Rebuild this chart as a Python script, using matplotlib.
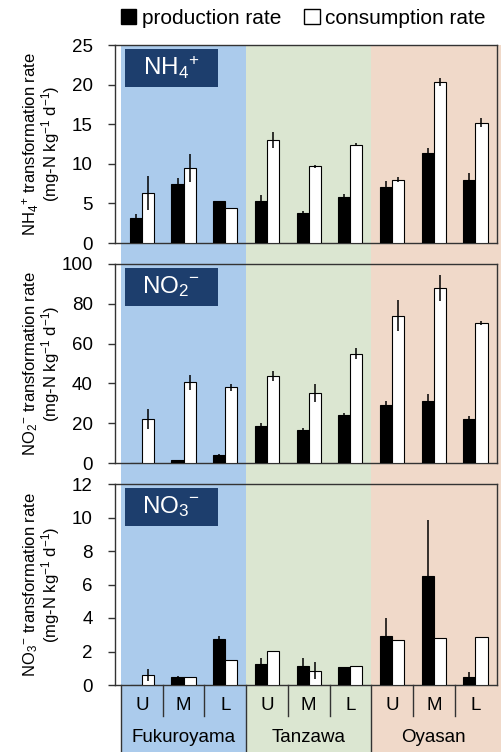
import numpy as np
import matplotlib
matplotlib.use("Agg")
from matplotlib import pyplot as plt
from matplotlib.patches import Patch, Rectangle
from matplotlib.transforms import blended_transform_factory

plt.rcParams['font.family'] = ['Liberation Sans', 'DejaVu Sans']
plt.rcParams['mathtext.fontset'] = 'custom'
plt.rcParams['mathtext.rm'] = 'Liberation Sans'
plt.rcParams['mathtext.it'] = 'Liberation Sans:italic'
plt.rcParams['mathtext.bf'] = 'Liberation Sans:bold'

sites = ['Fukuroyama', 'Tanzawa', 'Oyasan']
positions = ['U', 'M', 'L'] * 3

# NH4+ rates (mg-N kg-1 d-1)
nh4_prod = [3.1, 7.4, 5.3, 5.3, 3.8, 5.8, 7.1, 11.4, 7.9]
nh4_prod_err = [0.5, 0.8, 0.0, 0.7, 0.2, 0.35, 0.7, 0.6, 0.9]
nh4_cons = [6.3, 9.5, 4.4, 13.0, 9.7, 12.4, 8.0, 20.3, 15.2]
nh4_cons_err = [2.1, 1.8, 0.0, 1.0, 0.2, 0.2, 0.35, 0.5, 0.55]

# NO2- rates
no2_prod = [0.0, 1.3, 3.9, 18.4, 16.6, 24.0, 29.0, 31.0, 22.1]
no2_prod_err = [0.0, 0.3, 0.8, 1.7, 1.2, 1.1, 2.0, 3.8, 1.4]
no2_cons = [22.1, 40.5, 38.0, 43.6, 35.3, 54.9, 74.0, 87.9, 70.4]
no2_cons_err = [5.2, 3.9, 1.9, 2.5, 4.5, 2.7, 7.7, 6.5, 1.1]

# NO3- rates
no3_prod = [0.02, 0.48, 2.73, 1.23, 1.15, 1.05, 2.95, 6.53, 0.46]
no3_prod_err = [0.0, 0.05, 0.17, 0.37, 0.45, 0.0, 1.05, 3.3, 0.32]
no3_cons = [0.6, 0.5, 1.5, 2.03, 0.84, 1.11, 2.7, 2.79, 2.87]
no3_cons_err = [0.37, 0.0, 0.0, 0.0, 0.51, 0.0, 0.0, 0.0, 0.0]

panels = [
    (r'NH$_4$$^{+}$', nh4_prod, nh4_prod_err, nh4_cons, nh4_cons_err, 25, 5,
     r'NH$_4$$^{+}$ transformation rate'),
    (r'NO$_2$$^{-}$', no2_prod, no2_prod_err, no2_cons, no2_cons_err, 100, 20,
     r'NO$_2$$^{-}$ transformation rate'),
    (r'NO$_3$$^{-}$', no3_prod, no3_prod_err, no3_cons, no3_cons_err, 12, 2,
     r'NO$_3$$^{-}$ transformation rate'),
]

W, H = 501, 752
fig = plt.figure(figsize=(W / 100, H / 100), dpi=100)

unit = 41.7  # px per category
band_colors = ['#abcbec', '#dbe6d1', '#f0d9c9']

# coloured site bands behind all three panels
bg = fig.add_axes([116 / W, 0, (W - 116) / W, (H - 45) / H], zorder=-5)
bg_left = -0.5 - 5 / unit
bg.set_xlim(bg_left, bg_left + (W - 116) / unit)
bg.set_ylim(0, 1)
for i, c in enumerate(band_colors):
    bg.axvspan(-0.5 + 3 * i, 2.5 + 3 * i + (3 if i == 2 else 0), color=c, lw=0)
bg.axis('off')

ax_left, ax_right = 115, 497
x_lo = -0.5 - 6 / unit
x_hi = x_lo + (ax_right - ax_left) / unit
frames = [(45, 243), (264, 463), (484, 685)]

x = np.arange(9)
bw = 0.29
axes = []
for (top, bot), (tag, prod, perr, cons, cerr, ymax, step, ylab) in zip(frames, panels):
    ax = fig.add_axes([ax_left / W, 1 - bot / H, (ax_right - ax_left) / W, (bot - top) / H])
    ax.patch.set_alpha(0)
    ax.bar(x - bw / 2, prod, bw, color='black', edgecolor='black', lw=0.8, zorder=3)
    ax.bar(x + bw / 2, cons, bw, color='white', edgecolor='black', lw=0.8, zorder=3)
    ax.errorbar(x - bw / 2, prod, yerr=perr, fmt='none', ecolor='black', elinewidth=1.1,
                capsize=0, zorder=4)
    ax.errorbar(x + bw / 2, cons, yerr=cerr, fmt='none', ecolor='black', elinewidth=1.1,
                capsize=0, zorder=4)
    ax.set_xlim(x_lo, x_hi)
    ax.set_ylim(0, ymax)
    ax.set_yticks(np.arange(0, ymax + step / 2, step))
    ax.tick_params(axis='y', direction='out', length=5, width=1, labelsize=13.5, pad=11,
                   color='#333333')
    ax.set_xticks([])
    for s in ax.spines.values():
        s.set_color('#333333')
        s.set_linewidth(1)
    # two-line axis title, placed by hand
    fig.text(31 / W, 1 - (top + bot) / 2 / H, ylab, rotation=90, ha='center', va='center',
             fontsize=12)
    fig.text(51 / W, 1 - (top + bot) / 2 / H, '(mg-N kg$^{-1}$ d$^{-1}$)', rotation=90,
             ha='center', va='center', fontsize=12)

    # species tag in the corner
    h = bot - top
    ax.add_patch(Rectangle((10 / (ax_right - ax_left), 1 - 42 / h), 93 / (ax_right - ax_left), 38 / h,
                           transform=ax.transAxes, facecolor='#1d3e6d', edgecolor='none',
                           zorder=5))
    ax.text((10 + 46.5) / (ax_right - ax_left), 1 - 23 / h, tag, transform=ax.transAxes,
            ha='center', va='center', color='white', fontsize=17.5, zorder=6)
    axes.append(ax)

ax3 = axes[2]
tr = blended_transform_factory(ax3.transData, ax3.transAxes)
h3 = frames[2][1] - frames[2][0]
for i in range(9):
    ax3.text(x[i], -20 / h3, positions[i], transform=tr, ha='center', va='center',
             fontsize=13.5)
for j, name in enumerate(sites):
    ax3.text(3 * j + 1, -52 / h3, name, transform=tr, ha='center', va='center',
             fontsize=13.5)
for k in range(9):
    xs = k - 0.5
    low = -67 / h3 if k % 3 == 0 else -31 / h3
    ax3.plot([xs, xs], [0, low], transform=tr, color='#333333', lw=1, clip_on=False)

handles = [Patch(facecolor='black', edgecolor='black', label='production rate'),
           Patch(facecolor='white', edgecolor='black', label='consumption rate')]
fig.legend(handles=handles, loc='center', bbox_to_anchor=(303 / W, 1 - 18 / H), ncol=2,
           frameon=False, fontsize=15, handlelength=0.75, handleheight=0.75,
           handletextpad=0.25, columnspacing=1.1, borderaxespad=0)

fig.savefig('out.png', dpi=100)
